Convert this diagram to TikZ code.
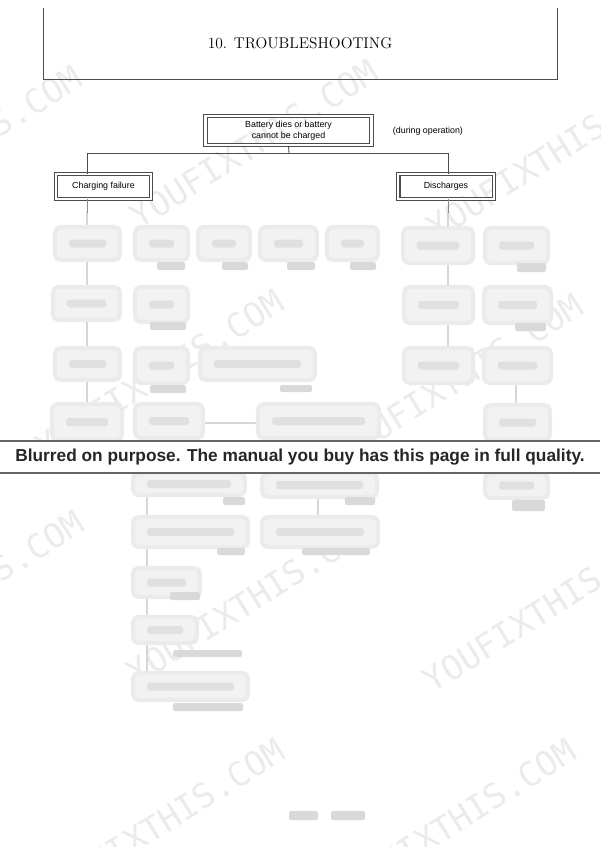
\documentclass[tikz,border=0pt]{standalone}
\usepackage{fontspec}
\newfontfamily\boxfont{Liberation Sans}
\newfontfamily\markfont{DejaVu Sans Mono}
\usepackage{tikz}
\usetikzlibrary{positioning}
\usetikzlibrary{calc}
\colorlet{framecol}{black!70}
\tikzset{>=latex}
\tikzset{
  framebox/.style={draw=framecol, double, double distance=1.5pt, line width=0.75pt,
    font=\boxfont\fontsize{6.3}{7.6}\selectfont, align=center, inner sep=0pt},
  plaintext/.style={font=\boxfont\fontsize{6.3}{7.6}\selectfont},
  blurbox/.style={draw=black!8, line width=3pt, fill=black!5, rounded corners=4pt},
  blurblob/.style={fill=black!12, rounded corners=2pt},
  blurtag/.style={fill=black!15, rounded corners=1.5pt},
  blurline/.style={draw=black!16, line width=2pt},
  watermark/.style={text=black!8, font=\markfont\fontsize{24}{24}\selectfont, rotate=32},
}

\begin{document}
\begin{tikzpicture}[x=0.025cm, y=-0.025cm]
\useasboundingbox (0,0) rectangle (600,847);

% Watermarks
\foreach \wx/\wy in {-42/150, 254/144, 551/155, 160/374, 459/378,
                     -40/595, 251/600, 547/608, 161/823, 452/823}
  \node[watermark] at (\wx,\wy) {YOUFIXTHIS.COM};

% Title frame
\draw[framecol, line width=0.7pt] (43,8) -- (43,79) -- (557,79) -- (557,8);
\node[font=\fontsize{11}{13}\selectfont] (title) at (300,43) {10. TROUBLESHOOTING};

% Blurred connectors
\foreach \xa/\ya/\xb/\yb in {87/212/87/227, 87/260/87/287, 87/320/87/348, 87/380/87/404,
                             448/212/448/228, 448/263/448/287, 448/323/448/348,
                             516/383/516/405, 203/423/258/423,
                             147/495/147/517, 147/547/147/568, 147/597/147/617,
                             147/643/147/673, 318/497/318/517}
  \draw[blurline] (\xa,\ya) -- (\xb,\yb);

% Blurred boxes
\foreach \xa/\ya/\xb/\yb in {55/227/120/260, 135/227/188/260, 198/227/250/260,
                             260/227/317/260, 327/227/378/260, 403/228/473/263, 485/228/548/263,
                             53/287/120/320, 135/287/188/322, 404/287/473/323, 484/287/551/323,
                             55/348/120/380, 135/348/188/383, 200/348/315/380,
                             404/348/473/383, 484/348/551/383,
                             52/404/122/440, 135/404/203/438, 258/404/379/438, 485/405/550/440,
                             133/473/245/495, 262/473/377/497, 485/473/548/498,
                             133/517/248/547, 262/517/378/547,
                             133/568/200/597, 133/617/197/643, 133/673/248/700}
{
  \draw[blurbox] (\xa,\ya) rectangle (\xb,\yb);
  \fill[blurblob] ({\xa+14},{(\ya+\yb)/2-4}) rectangle ({\xb-14},{(\ya+\yb)/2+4});
}

% Blurred page references
\foreach \xa/\ya/\xb/\yb in {157/262/185/270, 222/262/248/270, 287/262/315/270,
                             350/262/376/270, 517/263/546/272,
                             150/322/186/330, 515/323/546/331,
                             150/385/186/393, 280/385/312/392,
                             223/497/245/505, 345/497/375/505, 512/500/545/511,
                             217/548/245/555, 302/548/370/555,
                             170/592/200/600, 173/650/242/657, 173/703/243/711,
                             289/811/318/820, 331/811/365/820}
  \fill[blurtag] (\xa,\ya) rectangle (\xb,\yb);

% Top of the chart
\node[framebox, minimum width=4.15cm, minimum height=0.74cm] (main) at (288.5,130.5)
  {Battery dies or battery\\cannot be charged};
\node[plaintext, anchor=west] (oper) at (388,131) {(during operation)};
\node[framebox, minimum width=2.38cm, minimum height=0.62cm] (charge) at (103.5,186.5)
  {Charging failure};
\node[framebox, minimum width=2.38cm, minimum height=0.62cm] (disch) at (446,186.5)
  {Discharges};

\coordinate (split) at (289,153);
\coordinate (cleft) at (87,153);
\coordinate (cright) at (448,153);
\coordinate (lfoot) at (87,213);
\coordinate (rfoot) at (448,213);

\draw[framecol, line width=0.6pt] (main.south) -- (split);
\draw[framecol, line width=0.6pt] (cleft) -- (cright);
\draw[framecol, line width=0.6pt] (cleft) -- (charge.north -| cleft);
\draw[framecol, line width=0.6pt] (cright) -- (disch.north -| cright);
\draw[black!45, line width=0.6pt] (charge.south -| cleft) -- (lfoot);
\draw[black!45, line width=0.6pt] (disch.south -| cright) -- (rfoot);

% Notice band
\fill[white] (0,441) rectangle (600,473);
\draw[black!60, line width=0.8pt] (0,441) -- (600,441);
\draw[black!60, line width=0.8pt] (0,473) -- (600,473);
\node[font=\boxfont\bfseries\fontsize{12.3}{14}\selectfont, text=black!85] (notice) at (300,457)
  {Blurred on purpose. The manual you buy has this page in full quality.};

\end{tikzpicture}
\end{document}
